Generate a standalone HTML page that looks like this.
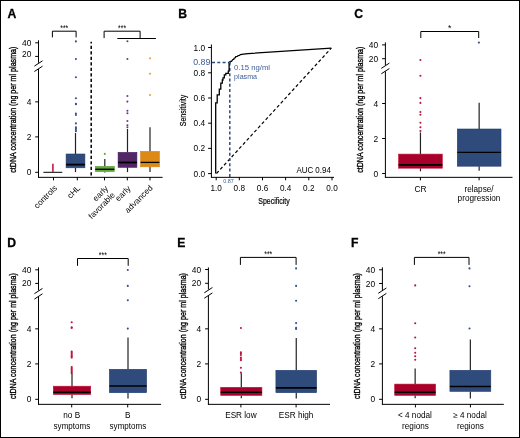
<!DOCTYPE html>
<html><head><meta charset="utf-8"><style>
html,body{margin:0;padding:0;background:#fff;}
#fig{position:absolute;left:0;top:0;width:520px;height:438px;box-sizing:border-box;border:1px solid #000;background:#fff;overflow:hidden;}
svg{position:absolute;left:-1px;top:-1px;will-change:transform;}
text{font-family:"Liberation Sans",sans-serif;}
</style></head><body><div id="fig">
<svg width="520" height="438" viewBox="0 0 520 438">
<text x="7.4" y="17.9" text-anchor="start" font-size="12.2" fill="#000" font-weight="bold" stroke="#000" stroke-width="0.3">A</text>
<line x1="38.5" y1="40.3" x2="38.5" y2="62.8" stroke="#000" stroke-width="1" />
<line x1="38.5" y1="69.0" x2="38.5" y2="177.6" stroke="#000" stroke-width="1" />
<line x1="34.4" y1="66.1" x2="42.5" y2="60.8" stroke="#000" stroke-width="1" />
<line x1="34.4" y1="71.5" x2="42.5" y2="66.2" stroke="#000" stroke-width="1" />
<line x1="35.2" y1="42.8" x2="38.5" y2="42.8" stroke="#000" stroke-width="1" />
<text x="31.3" y="45.8" text-anchor="end" font-size="8.4" fill="#000" font-weight="normal" >40</text>
<line x1="35.2" y1="56.4" x2="38.5" y2="56.4" stroke="#000" stroke-width="1" />
<text x="31.3" y="56.8" text-anchor="end" font-size="8.4" fill="#000" font-weight="normal" >20</text>
<line x1="35.2" y1="101.85" x2="38.5" y2="101.85" stroke="#000" stroke-width="1" />
<text x="31.3" y="104.85" text-anchor="end" font-size="8.4" fill="#000" font-weight="normal" >4</text>
<line x1="35.2" y1="136.9" x2="38.5" y2="136.9" stroke="#000" stroke-width="1" />
<text x="31.3" y="139.6" text-anchor="end" font-size="8.4" fill="#000" font-weight="normal" >2</text>
<line x1="35.2" y1="172.3" x2="38.5" y2="172.3" stroke="#000" stroke-width="1" />
<text x="31.3" y="175.0" text-anchor="end" font-size="8.4" fill="#000" font-weight="normal" >0</text>
<text x="16.1" y="109.65" text-anchor="middle" font-size="9.3" transform="rotate(-90 16.1 109.65)" stroke="#000" stroke-width="0.35" textLength="126.1" lengthAdjust="spacingAndGlyphs">ctDNA concentration (ng per ml plasma)</text>
<line x1="38" y1="177.35" x2="162.6" y2="177.35" stroke="#000" stroke-width="1" />
<line x1="53.5" y1="177.1" x2="53.5" y2="180.4" stroke="#000" stroke-width="1" />
<line x1="77.3" y1="177.1" x2="77.3" y2="180.4" stroke="#000" stroke-width="1" />
<line x1="104.5" y1="177.1" x2="104.5" y2="180.4" stroke="#000" stroke-width="1" />
<line x1="127.3" y1="177.1" x2="127.3" y2="180.4" stroke="#000" stroke-width="1" />
<line x1="150" y1="177.1" x2="150" y2="180.4" stroke="#000" stroke-width="1" />
<line x1="91.2" y1="41.8" x2="91.2" y2="177" stroke="#000" stroke-width="1.5" stroke-dasharray="3.2 2.3" stroke-dashoffset="1.5"/>
<line x1="43.4" y1="172.3" x2="62.3" y2="172.3" stroke="#000" stroke-width="1" />
<line x1="52.9" y1="163.8" x2="52.9" y2="172" stroke="#c8284f" stroke-width="1.7" />
<line x1="75.5" y1="133" x2="75.5" y2="154" stroke="#222" stroke-width="1.2" />
<line x1="75.5" y1="167.8" x2="75.5" y2="172.1" stroke="#222" stroke-width="1.2" />
<rect x="66.1" y="154" width="18.80000000000001" height="13.800000000000011" fill="#2e4b7c" stroke="#243f70" stroke-width="0.6"/>
<line x1="66.1" y1="164.6" x2="84.9" y2="164.6" stroke="#000" stroke-width="1.8" />
<circle cx="75.9" cy="41.4" r="1.05" fill="#30508e"/>
<circle cx="75.9" cy="59" r="1.05" fill="#30508e"/>
<circle cx="75.9" cy="77.2" r="1.05" fill="#30508e"/>
<circle cx="75.9" cy="98.3" r="1.05" fill="#30508e"/>
<circle cx="75.9" cy="103.8" r="1.05" fill="#30508e"/>
<circle cx="75.9" cy="104.3" r="1.05" fill="#30508e"/>
<circle cx="75.9" cy="113.5" r="1.05" fill="#30508e"/>
<circle cx="75.9" cy="115" r="1.05" fill="#30508e"/>
<circle cx="75.9" cy="123.4" r="1.05" fill="#30508e"/>
<circle cx="75.9" cy="127.2" r="1.05" fill="#30508e"/>
<circle cx="75.9" cy="128.6" r="1.05" fill="#30508e"/>
<circle cx="75.9" cy="130" r="1.05" fill="#30508e"/>
<circle cx="75.9" cy="131.2" r="1.05" fill="#30508e"/>
<line x1="104.8" y1="158.9" x2="104.8" y2="166.4" stroke="#222" stroke-width="1.2" />
<line x1="104.8" y1="171.6" x2="104.8" y2="172.6" stroke="#222" stroke-width="1.2" />
<rect x="95.3" y="166.4" width="19.0" height="5.199999999999989" fill="#63aa3a" stroke="#5a9e34" stroke-width="0.6"/>
<line x1="95.3" y1="169.3" x2="114.3" y2="169.3" stroke="#000" stroke-width="1.4" />
<circle cx="104.8" cy="153.9" r="1.05" fill="#63aa3a"/>
<line x1="127.5" y1="129" x2="127.5" y2="152.4" stroke="#222" stroke-width="1.2" />
<line x1="127.5" y1="167.3" x2="127.5" y2="172.1" stroke="#222" stroke-width="1.2" />
<rect x="118.1" y="152.4" width="18.80000000000001" height="14.900000000000006" fill="#532766" stroke="#46195a" stroke-width="0.6"/>
<line x1="118.1" y1="162.5" x2="136.9" y2="162.5" stroke="#000" stroke-width="1.8" />
<circle cx="127.4" cy="41.2" r="1.05" fill="#6a3a8a"/>
<circle cx="127.4" cy="59" r="1.05" fill="#6a3a8a"/>
<circle cx="127.4" cy="96" r="1.05" fill="#6a3a8a"/>
<circle cx="127.4" cy="101.6" r="1.05" fill="#6a3a8a"/>
<circle cx="127.4" cy="110.7" r="1.05" fill="#6a3a8a"/>
<circle cx="127.4" cy="113.2" r="1.05" fill="#6a3a8a"/>
<circle cx="127.4" cy="121" r="1.05" fill="#6a3a8a"/>
<circle cx="127.4" cy="125.2" r="1.05" fill="#6a3a8a"/>
<circle cx="127.4" cy="127.2" r="1.05" fill="#6a3a8a"/>
<line x1="150.0" y1="127.2" x2="150.0" y2="151.4" stroke="#222" stroke-width="1.2" />
<line x1="150.0" y1="166.8" x2="150.0" y2="172.1" stroke="#222" stroke-width="1.2" />
<rect x="140.6" y="151.4" width="18.80000000000001" height="15.400000000000006" fill="#dc8916" stroke="#d58210" stroke-width="0.6"/>
<line x1="140.6" y1="162.4" x2="159.4" y2="162.4" stroke="#000" stroke-width="1.3" />
<circle cx="150" cy="58.2" r="1.05" fill="#f0a030"/>
<circle cx="150" cy="73.8" r="1.05" fill="#f0a030"/>
<circle cx="150" cy="95" r="1.05" fill="#f0a030"/>
<path d="M52.4,37.4 V31.2 H76.1 V37.4" fill="none" stroke="#000" stroke-width="1" />
<text x="64.25" y="31.4" text-anchor="middle" font-size="8.6" fill="#000" font-weight="normal"  textLength="8" lengthAdjust="spacingAndGlyphs">***</text>
<path d="M104.1,38.1 V31.2 H140.1 V38.5" fill="none" stroke="#000" stroke-width="1" />
<text x="122.1" y="31.4" text-anchor="middle" font-size="8.6" fill="#000" font-weight="normal"  textLength="8" lengthAdjust="spacingAndGlyphs">***</text>
<line x1="117.3" y1="38.5" x2="155.9" y2="38.5" stroke="#000" stroke-width="1" />
<text x="57.6" y="188.7" text-anchor="end" font-size="8.2" transform="rotate(-45 57.6 188.7)">controls</text>
<text x="80.8" y="188.7" text-anchor="end" font-size="8.2" transform="rotate(-45 80.8 188.7)">cHL</text>
<text x="108.6" y="189.1" text-anchor="end" font-size="8.2" transform="rotate(-45 108.6 189.1)">early</text>
<text x="115.6" y="195.6" text-anchor="end" font-size="8.2" transform="rotate(-45 115.6 195.6)">favorable</text>
<text x="131.1" y="189.1" text-anchor="end" font-size="8.2" transform="rotate(-45 131.1 189.1)">early</text>
<text x="153.2" y="188.4" text-anchor="end" font-size="8.2" transform="rotate(-45 153.2 188.4)">advanced</text>
<text x="178.2" y="17.9" text-anchor="start" font-size="12.2" fill="#000" font-weight="bold" stroke="#000" stroke-width="0.3">B</text>
<line x1="211.4" y1="44.5" x2="211.4" y2="177.5" stroke="#000" stroke-width="1" />
<line x1="211" y1="177.35" x2="334" y2="177.35" stroke="#000" stroke-width="1" />
<line x1="208.1" y1="47.5" x2="211.4" y2="47.5" stroke="#000" stroke-width="1" />
<text x="205.1" y="50.5" text-anchor="end" font-size="8.3" fill="#000" font-weight="normal" >1.0</text>
<line x1="208.1" y1="72.8" x2="211.4" y2="72.8" stroke="#000" stroke-width="1" />
<text x="205.1" y="75.8" text-anchor="end" font-size="8.3" fill="#000" font-weight="normal" >0.8</text>
<line x1="208.1" y1="98.0" x2="211.4" y2="98.0" stroke="#000" stroke-width="1" />
<text x="205.1" y="101.0" text-anchor="end" font-size="8.3" fill="#000" font-weight="normal" >0.6</text>
<line x1="208.1" y1="123.2" x2="211.4" y2="123.2" stroke="#000" stroke-width="1" />
<text x="205.1" y="126.2" text-anchor="end" font-size="8.3" fill="#000" font-weight="normal" >0.4</text>
<line x1="208.1" y1="148.4" x2="211.4" y2="148.4" stroke="#000" stroke-width="1" />
<text x="205.1" y="151.4" text-anchor="end" font-size="8.3" fill="#000" font-weight="normal" >0.2</text>
<line x1="208.1" y1="173.6" x2="211.4" y2="173.6" stroke="#000" stroke-width="1" />
<text x="205.1" y="176.6" text-anchor="end" font-size="8.3" fill="#000" font-weight="normal" >0.0</text>
<text x="210.4" y="65" text-anchor="end" font-size="8.6" fill="#3c5d96" font-weight="normal"  textLength="17.2" lengthAdjust="spacingAndGlyphs">0.89</text>
<line x1="216.2" y1="177" x2="216.2" y2="180.3" stroke="#000" stroke-width="1" />
<text x="216.2" y="190.5" text-anchor="middle" font-size="8.2" fill="#000" font-weight="normal" >1.0</text>
<line x1="239.3" y1="177" x2="239.3" y2="180.3" stroke="#000" stroke-width="1" />
<text x="239.3" y="190.5" text-anchor="middle" font-size="8.2" fill="#000" font-weight="normal" >0.8</text>
<line x1="262.5" y1="177" x2="262.5" y2="180.3" stroke="#000" stroke-width="1" />
<text x="262.5" y="190.5" text-anchor="middle" font-size="8.2" fill="#000" font-weight="normal" >0.6</text>
<line x1="285.6" y1="177" x2="285.6" y2="180.3" stroke="#000" stroke-width="1" />
<text x="285.6" y="190.5" text-anchor="middle" font-size="8.2" fill="#000" font-weight="normal" >0.4</text>
<line x1="308.8" y1="177" x2="308.8" y2="180.3" stroke="#000" stroke-width="1" />
<text x="308.8" y="190.5" text-anchor="middle" font-size="8.2" fill="#000" font-weight="normal" >0.2</text>
<line x1="332" y1="177" x2="332" y2="180.3" stroke="#000" stroke-width="1" />
<text x="332" y="190.5" text-anchor="middle" font-size="8.2" fill="#000" font-weight="normal" >0.0</text>
<text x="274" y="204.3" text-anchor="middle" font-size="8.8" fill="#000" font-weight="normal" stroke="#000" stroke-width="0.2" textLength="31.5" lengthAdjust="spacingAndGlyphs">Specificity</text>
<text x="186.4" y="110.5" text-anchor="middle" font-size="8.8" transform="rotate(-90 186.4 110.5)" stroke="#000" stroke-width="0.2" textLength="31.5" lengthAdjust="spacingAndGlyphs">Sensitivity</text>
<line x1="216.5" y1="173.5" x2="331.3" y2="48.1" stroke="#000" stroke-width="1.2" stroke-dasharray="3.2 2.4"/>
<line x1="212" y1="62.6" x2="229.8" y2="62.6" stroke="#2e4b7c" stroke-width="1.5" stroke-dasharray="3 2.3"/>
<line x1="229.8" y1="62.6" x2="229.8" y2="177" stroke="#2e4b7c" stroke-width="1.5" stroke-dasharray="3 2.3"/>
<path d="M215.7,173.6 L215.7,102.8 L217.2,102.8 L217.2,94.8 L219.3,94.8 L219.3,89.2 L220.8,89.2 L220.8,83.2 L222.3,83.2 L222.3,80 L223,80 L223,77.9 L224.3,77.9 L224.3,74.9 L225.8,74.9 L225.8,73.4 L228.3,73.4 L228.3,71.1 L229.1,71.1 L229.1,62.8 L230.4,61.3 L231.5,61.3 L232.7,59.7 L233.8,59.2 L234.2,58.2 L235.2,57.8 L235.8,56.5 L237.3,56.4 L238.2,55.6 L239.4,55.4 L240.4,54.6 L243.5,54.1 L248,53.6 L331.3,48.1" fill="none" stroke="#000" stroke-width="1.3" />
<circle cx="229.8" cy="62.6" r="1.2" fill="#2e4b7c"/>
<text x="234.1" y="69.5" text-anchor="start" font-size="7.7" fill="#3c5d96" font-weight="normal"  textLength="36" lengthAdjust="spacingAndGlyphs">0.15 ng/ml</text>
<text x="234.1" y="78.6" text-anchor="start" font-size="7.7" fill="#3c5d96" font-weight="normal"  textLength="23" lengthAdjust="spacingAndGlyphs">plasma</text>
<text x="228.5" y="182.7" text-anchor="middle" font-size="5.5" fill="#3c5d96" font-weight="normal"  textLength="10.6" lengthAdjust="spacingAndGlyphs">0.87</text>
<text x="330.8" y="172.7" text-anchor="end" font-size="8.2" fill="#000" font-weight="normal"  textLength="34.4" lengthAdjust="spacingAndGlyphs">AUC 0.94</text>
<text x="354.3" y="17.9" text-anchor="start" font-size="12.2" fill="#000" font-weight="bold" stroke="#000" stroke-width="0.3">C</text>
<line x1="385.4" y1="42.4" x2="385.4" y2="65.10000000000001" stroke="#000" stroke-width="1" />
<line x1="385.4" y1="71.3" x2="385.4" y2="177.5" stroke="#000" stroke-width="1" />
<line x1="381.29999999999995" y1="68.4" x2="389.4" y2="63.1" stroke="#000" stroke-width="1" />
<line x1="381.29999999999995" y1="73.8" x2="389.4" y2="68.5" stroke="#000" stroke-width="1" />
<line x1="382.09999999999997" y1="44.9" x2="385.4" y2="44.9" stroke="#000" stroke-width="1" />
<text x="378.2" y="47.9" text-anchor="end" font-size="8.4" fill="#000" font-weight="normal" >40</text>
<line x1="382.09999999999997" y1="58.7" x2="385.4" y2="58.7" stroke="#000" stroke-width="1" />
<text x="378.2" y="61.7" text-anchor="end" font-size="8.4" fill="#000" font-weight="normal" >20</text>
<line x1="382.09999999999997" y1="103.5" x2="385.4" y2="103.5" stroke="#000" stroke-width="1" />
<text x="378.2" y="106.5" text-anchor="end" font-size="8.4" fill="#000" font-weight="normal" >4</text>
<line x1="382.09999999999997" y1="138.5" x2="385.4" y2="138.5" stroke="#000" stroke-width="1" />
<text x="378.2" y="141.5" text-anchor="end" font-size="8.4" fill="#000" font-weight="normal" >2</text>
<line x1="382.09999999999997" y1="173.5" x2="385.4" y2="173.5" stroke="#000" stroke-width="1" />
<text x="378.2" y="176.5" text-anchor="end" font-size="8.4" fill="#000" font-weight="normal" >0</text>
<text x="362.9" y="109.7" text-anchor="middle" font-size="9.3" transform="rotate(-90 362.9 109.7)" stroke="#000" stroke-width="0.35" textLength="126.2" lengthAdjust="spacingAndGlyphs">ctDNA concentration (ng per ml plasma)</text>
<line x1="384.9" y1="177.35" x2="512.5" y2="177.35" stroke="#000" stroke-width="1" />
<line x1="420.4" y1="177" x2="420.4" y2="180.3" stroke="#000" stroke-width="1" />
<line x1="479.1" y1="177" x2="479.1" y2="180.3" stroke="#000" stroke-width="1" />
<line x1="420.45000000000005" y1="132.5" x2="420.45000000000005" y2="154.1" stroke="#222" stroke-width="1.2" />
<line x1="420.45000000000005" y1="168.2" x2="420.45000000000005" y2="171.3" stroke="#222" stroke-width="1.2" />
<rect x="398.6" y="154.1" width="43.69999999999999" height="14.099999999999994" fill="#a6002b" stroke="#c41234" stroke-width="0.6"/>
<line x1="398.6" y1="164.9" x2="442.3" y2="164.9" stroke="#000" stroke-width="1.8" />
<circle cx="420.4" cy="60" r="1.05" fill="#b8173f"/>
<circle cx="420.4" cy="75.8" r="1.05" fill="#b8173f"/>
<circle cx="420.4" cy="98.1" r="1.05" fill="#b8173f"/>
<circle cx="420.4" cy="102.9" r="1.05" fill="#b8173f"/>
<circle cx="420.4" cy="112" r="1.05" fill="#b8173f"/>
<circle cx="420.4" cy="114.8" r="1.05" fill="#b8173f"/>
<circle cx="420.4" cy="122.8" r="1.05" fill="#b8173f"/>
<circle cx="420.4" cy="127.2" r="1.05" fill="#b8173f"/>
<circle cx="420.4" cy="131" r="1.05" fill="#b8173f"/>
<line x1="479.15" y1="102.7" x2="479.15" y2="129" stroke="#222" stroke-width="1.2" />
<line x1="479.15" y1="166.2" x2="479.15" y2="170.8" stroke="#222" stroke-width="1.2" />
<rect x="457.3" y="129" width="43.69999999999999" height="37.19999999999999" fill="#2e4b7c" stroke="#243f70" stroke-width="0.6"/>
<line x1="457.3" y1="152.4" x2="501" y2="152.4" stroke="#000" stroke-width="1.3" />
<circle cx="478.9" cy="42.6" r="1.05" fill="#30508e"/>
<path d="M420.8,38 V31.5 H478.7 V38" fill="none" stroke="#000" stroke-width="1" />
<text x="449.75" y="31.2" text-anchor="middle" font-size="8.6" fill="#000" font-weight="normal" >*</text>
<text x="420.6" y="191.6" text-anchor="middle" font-size="8.4" fill="#000" font-weight="normal" >CR</text>
<text x="479" y="191.6" text-anchor="middle" font-size="8.2" fill="#000" font-weight="normal" >relapse/</text>
<text x="479" y="201.2" text-anchor="middle" font-size="8.2" fill="#000" font-weight="normal" >progression</text>
<text x="7.3" y="247.4" text-anchor="start" font-size="12.2" fill="#000" font-weight="bold" stroke="#000" stroke-width="0.3">D</text>
<line x1="38.5" y1="267.4" x2="38.5" y2="290.4" stroke="#000" stroke-width="1" />
<line x1="38.5" y1="296.6" x2="38.5" y2="404.6" stroke="#000" stroke-width="1" />
<line x1="34.4" y1="293.7" x2="42.5" y2="288.4" stroke="#000" stroke-width="1" />
<line x1="34.4" y1="299.1" x2="42.5" y2="293.8" stroke="#000" stroke-width="1" />
<line x1="35.2" y1="269.8" x2="38.5" y2="269.8" stroke="#000" stroke-width="1" />
<text x="31.3" y="272.8" text-anchor="end" font-size="8.4" fill="#000" font-weight="normal" >40</text>
<line x1="35.2" y1="283.4" x2="38.5" y2="283.4" stroke="#000" stroke-width="1" />
<text x="31.3" y="286.4" text-anchor="end" font-size="8.4" fill="#000" font-weight="normal" >20</text>
<line x1="35.2" y1="328.85" x2="38.5" y2="328.85" stroke="#000" stroke-width="1" />
<text x="31.3" y="331.85" text-anchor="end" font-size="8.4" fill="#000" font-weight="normal" >4</text>
<line x1="35.2" y1="363.9" x2="38.5" y2="363.9" stroke="#000" stroke-width="1" />
<text x="31.3" y="366.9" text-anchor="end" font-size="8.4" fill="#000" font-weight="normal" >2</text>
<line x1="35.2" y1="399.3" x2="38.5" y2="399.3" stroke="#000" stroke-width="1" />
<text x="31.3" y="402.3" text-anchor="end" font-size="8.4" fill="#000" font-weight="normal" >0</text>
<text x="16.1" y="336.1" text-anchor="middle" font-size="9.3" transform="rotate(-90 16.1 336.1)" stroke="#000" stroke-width="0.35" textLength="126" lengthAdjust="spacingAndGlyphs">ctDNA concentration (ng per ml plasma)</text>
<line x1="38" y1="404.35" x2="161.1" y2="404.35" stroke="#000" stroke-width="1" />
<line x1="71.7" y1="404.1" x2="71.7" y2="407.4" stroke="#000" stroke-width="1" />
<line x1="127.7" y1="404.1" x2="127.7" y2="407.4" stroke="#000" stroke-width="1" />
<line x1="72.0" y1="373.8" x2="72.0" y2="386.2" stroke="#222" stroke-width="1.2" />
<line x1="72.0" y1="394.5" x2="72.0" y2="398.2" stroke="#222" stroke-width="1.2" />
<rect x="53.3" y="386.2" width="37.400000000000006" height="8.300000000000011" fill="#a6002b" stroke="#c41234" stroke-width="0.6"/>
<line x1="53.3" y1="392.2" x2="90.7" y2="392.2" stroke="#000" stroke-width="1.6" />
<circle cx="71.7" cy="322.2" r="1.05" fill="#b8173f"/>
<circle cx="71.7" cy="327.3" r="1.05" fill="#b8173f"/>
<circle cx="71.7" cy="328.0" r="1.05" fill="#b8173f"/>
<circle cx="71.7" cy="351.5" r="1.05" fill="#b8173f"/>
<circle cx="71.7" cy="352.8" r="1.05" fill="#b8173f"/>
<circle cx="71.7" cy="354" r="1.05" fill="#b8173f"/>
<circle cx="71.7" cy="355.3" r="1.05" fill="#b8173f"/>
<circle cx="71.7" cy="356.6" r="1.05" fill="#b8173f"/>
<circle cx="71.7" cy="357.6" r="1.05" fill="#b8173f"/>
<circle cx="71.7" cy="367" r="1.05" fill="#b8173f"/>
<circle cx="71.7" cy="368.3" r="1.05" fill="#b8173f"/>
<circle cx="71.7" cy="369.6" r="1.05" fill="#b8173f"/>
<circle cx="71.7" cy="370.9" r="1.05" fill="#b8173f"/>
<circle cx="71.7" cy="372.2" r="1.05" fill="#b8173f"/>
<circle cx="71.7" cy="373.2" r="1.05" fill="#b8173f"/>
<line x1="128.0" y1="337.5" x2="128.0" y2="369.3" stroke="#222" stroke-width="1.2" />
<line x1="128.0" y1="392.7" x2="128.0" y2="398.6" stroke="#222" stroke-width="1.2" />
<rect x="109.4" y="369.3" width="37.19999999999999" height="23.399999999999977" fill="#2e4b7c" stroke="#243f70" stroke-width="0.6"/>
<line x1="109.4" y1="386" x2="146.6" y2="386" stroke="#000" stroke-width="1.3" />
<circle cx="127.8" cy="270" r="1.05" fill="#30508e"/>
<circle cx="127.8" cy="285.9" r="1.05" fill="#30508e"/>
<circle cx="127.8" cy="300.2" r="1.05" fill="#30508e"/>
<circle cx="127.8" cy="328.6" r="1.05" fill="#30508e"/>
<path d="M77.5,265.8 V258.5 H128.2 V265.8" fill="none" stroke="#000" stroke-width="1" />
<text x="102.85" y="257.9" text-anchor="middle" font-size="8.6" fill="#000" font-weight="normal"  textLength="8" lengthAdjust="spacingAndGlyphs">***</text>
<text x="71.7" y="418.3" text-anchor="middle" font-size="8.2" fill="#000" font-weight="normal" >no B</text>
<text x="71.9" y="429.1" text-anchor="middle" font-size="8.2" fill="#000" font-weight="normal"  textLength="36.6" lengthAdjust="spacingAndGlyphs">symptoms</text>
<text x="127.7" y="418.3" text-anchor="middle" font-size="8.2" fill="#000" font-weight="normal" >B</text>
<text x="127.9" y="429.1" text-anchor="middle" font-size="8.2" fill="#000" font-weight="normal"  textLength="36.6" lengthAdjust="spacingAndGlyphs">symptoms</text>
<text x="177.3" y="247.4" text-anchor="start" font-size="12.2" fill="#000" font-weight="bold" stroke="#000" stroke-width="0.3">E</text>
<line x1="208.4" y1="267.4" x2="208.4" y2="289.5" stroke="#000" stroke-width="1" />
<line x1="208.4" y1="295.70000000000005" x2="208.4" y2="404.6" stroke="#000" stroke-width="1" />
<line x1="204.3" y1="292.8" x2="212.4" y2="287.5" stroke="#000" stroke-width="1" />
<line x1="204.3" y1="298.20000000000005" x2="212.4" y2="292.90000000000003" stroke="#000" stroke-width="1" />
<line x1="205.1" y1="269.5" x2="208.4" y2="269.5" stroke="#000" stroke-width="1" />
<text x="201.20000000000002" y="272.5" text-anchor="end" font-size="8.4" fill="#000" font-weight="normal" >40</text>
<line x1="205.1" y1="283.3" x2="208.4" y2="283.3" stroke="#000" stroke-width="1" />
<text x="201.20000000000002" y="286.3" text-anchor="end" font-size="8.4" fill="#000" font-weight="normal" >20</text>
<line x1="205.1" y1="328.85" x2="208.4" y2="328.85" stroke="#000" stroke-width="1" />
<text x="201.20000000000002" y="331.85" text-anchor="end" font-size="8.4" fill="#000" font-weight="normal" >4</text>
<line x1="205.1" y1="363.9" x2="208.4" y2="363.9" stroke="#000" stroke-width="1" />
<text x="201.20000000000002" y="366.9" text-anchor="end" font-size="8.4" fill="#000" font-weight="normal" >2</text>
<line x1="205.1" y1="399.3" x2="208.4" y2="399.3" stroke="#000" stroke-width="1" />
<text x="201.20000000000002" y="402.3" text-anchor="end" font-size="8.4" fill="#000" font-weight="normal" >0</text>
<text x="185.9" y="336" text-anchor="middle" font-size="9.3" transform="rotate(-90 185.9 336)" stroke="#000" stroke-width="0.35" textLength="126" lengthAdjust="spacingAndGlyphs">ctDNA concentration (ng per ml plasma)</text>
<line x1="207.9" y1="404.35" x2="330" y2="404.35" stroke="#000" stroke-width="1" />
<line x1="240.9" y1="404.1" x2="240.9" y2="407.4" stroke="#000" stroke-width="1" />
<line x1="296.1" y1="404.1" x2="296.1" y2="407.4" stroke="#000" stroke-width="1" />
<line x1="241.29999999999998" y1="373.3" x2="241.29999999999998" y2="387.3" stroke="#222" stroke-width="1.2" />
<line x1="241.29999999999998" y1="395.4" x2="241.29999999999998" y2="398.2" stroke="#222" stroke-width="1.2" />
<rect x="220.7" y="387.3" width="41.19999999999999" height="8.099999999999966" fill="#a6002b" stroke="#c41234" stroke-width="0.6"/>
<line x1="220.7" y1="392.2" x2="261.9" y2="392.2" stroke="#000" stroke-width="1.6" />
<circle cx="240.9" cy="328" r="1.05" fill="#b8173f"/>
<circle cx="240.9" cy="352.2" r="1.05" fill="#b8173f"/>
<circle cx="240.9" cy="353.6" r="1.05" fill="#b8173f"/>
<circle cx="240.9" cy="355" r="1.05" fill="#b8173f"/>
<circle cx="240.9" cy="357.6" r="1.05" fill="#b8173f"/>
<circle cx="240.9" cy="359" r="1.05" fill="#b8173f"/>
<circle cx="240.9" cy="360.3" r="1.05" fill="#b8173f"/>
<circle cx="240.9" cy="367.8" r="1.05" fill="#b8173f"/>
<circle cx="240.9" cy="372.6" r="1.05" fill="#b8173f"/>
<line x1="296.25" y1="338" x2="296.25" y2="370.3" stroke="#222" stroke-width="1.2" />
<line x1="296.25" y1="392.7" x2="296.25" y2="398.6" stroke="#222" stroke-width="1.2" />
<rect x="275.9" y="370.3" width="40.700000000000045" height="22.399999999999977" fill="#2e4b7c" stroke="#243f70" stroke-width="0.6"/>
<line x1="275.9" y1="387.9" x2="316.6" y2="387.9" stroke="#000" stroke-width="1.6" />
<circle cx="296.1" cy="268.4" r="1.05" fill="#30508e"/>
<circle cx="296.1" cy="285.9" r="1.05" fill="#30508e"/>
<circle cx="296.1" cy="300.7" r="1.05" fill="#30508e"/>
<circle cx="296.1" cy="323.1" r="1.05" fill="#30508e"/>
<circle cx="296.1" cy="327.9" r="1.05" fill="#30508e"/>
<circle cx="296.1" cy="329" r="1.05" fill="#30508e"/>
<path d="M240.4,264.9 V257.4 H296.1 V264.9" fill="none" stroke="#000" stroke-width="1" />
<text x="268.25" y="257.3" text-anchor="middle" font-size="8.6" fill="#000" font-weight="normal"  textLength="8" lengthAdjust="spacingAndGlyphs">***</text>
<text x="240.9" y="417.8" text-anchor="middle" font-size="8.2" fill="#000" font-weight="normal" >ESR low</text>
<text x="296.1" y="417.8" text-anchor="middle" font-size="8.2" fill="#000" font-weight="normal" >ESR high</text>
<text x="351" y="247.4" text-anchor="start" font-size="12.2" fill="#000" font-weight="bold" stroke="#000" stroke-width="0.3">F</text>
<line x1="382.4" y1="267.4" x2="382.4" y2="290.0" stroke="#000" stroke-width="1" />
<line x1="382.4" y1="296.20000000000005" x2="382.4" y2="404.6" stroke="#000" stroke-width="1" />
<line x1="378.29999999999995" y1="293.3" x2="386.4" y2="288.0" stroke="#000" stroke-width="1" />
<line x1="378.29999999999995" y1="298.70000000000005" x2="386.4" y2="293.40000000000003" stroke="#000" stroke-width="1" />
<line x1="379.09999999999997" y1="269.8" x2="382.4" y2="269.8" stroke="#000" stroke-width="1" />
<text x="375.2" y="272.8" text-anchor="end" font-size="8.4" fill="#000" font-weight="normal" >40</text>
<line x1="379.09999999999997" y1="283.5" x2="382.4" y2="283.5" stroke="#000" stroke-width="1" />
<text x="375.2" y="286.5" text-anchor="end" font-size="8.4" fill="#000" font-weight="normal" >20</text>
<line x1="379.09999999999997" y1="328.85" x2="382.4" y2="328.85" stroke="#000" stroke-width="1" />
<text x="375.2" y="331.85" text-anchor="end" font-size="8.4" fill="#000" font-weight="normal" >4</text>
<line x1="379.09999999999997" y1="363.9" x2="382.4" y2="363.9" stroke="#000" stroke-width="1" />
<text x="375.2" y="366.9" text-anchor="end" font-size="8.4" fill="#000" font-weight="normal" >2</text>
<line x1="379.09999999999997" y1="399.3" x2="382.4" y2="399.3" stroke="#000" stroke-width="1" />
<text x="375.2" y="402.3" text-anchor="end" font-size="8.4" fill="#000" font-weight="normal" >0</text>
<text x="360.1" y="336" text-anchor="middle" font-size="9.3" transform="rotate(-90 360.1 336)" stroke="#000" stroke-width="0.35" textLength="126" lengthAdjust="spacingAndGlyphs">ctDNA concentration (ng per ml plasma)</text>
<line x1="381.9" y1="404.35" x2="503.8" y2="404.35" stroke="#000" stroke-width="1" />
<line x1="415.4" y1="404.1" x2="415.4" y2="407.4" stroke="#000" stroke-width="1" />
<line x1="470.4" y1="404.1" x2="470.4" y2="407.4" stroke="#000" stroke-width="1" />
<line x1="415.15" y1="368.5" x2="415.15" y2="384.1" stroke="#222" stroke-width="1.2" />
<line x1="415.15" y1="395.4" x2="415.15" y2="398.2" stroke="#222" stroke-width="1.2" />
<rect x="394.7" y="384.1" width="40.900000000000034" height="11.299999999999955" fill="#a6002b" stroke="#c41234" stroke-width="0.6"/>
<line x1="394.7" y1="392.2" x2="435.6" y2="392.2" stroke="#000" stroke-width="1.6" />
<circle cx="415.2" cy="285.4" r="1.05" fill="#b8173f"/>
<circle cx="415.2" cy="323.2" r="1.05" fill="#b8173f"/>
<circle cx="415.2" cy="337.5" r="1.05" fill="#b8173f"/>
<circle cx="415.2" cy="348.3" r="1.05" fill="#b8173f"/>
<circle cx="415.2" cy="352.8" r="1.05" fill="#b8173f"/>
<circle cx="415.2" cy="356.3" r="1.05" fill="#b8173f"/>
<circle cx="415.2" cy="359.8" r="1.05" fill="#b8173f"/>
<line x1="470.35" y1="339.4" x2="470.35" y2="370.3" stroke="#222" stroke-width="1.2" />
<line x1="470.35" y1="391.4" x2="470.35" y2="398.6" stroke="#222" stroke-width="1.2" />
<rect x="449.9" y="370.3" width="40.900000000000034" height="21.099999999999966" fill="#2e4b7c" stroke="#243f70" stroke-width="0.6"/>
<line x1="449.9" y1="386.5" x2="490.8" y2="386.5" stroke="#000" stroke-width="1.6" />
<circle cx="469.5" cy="268.4" r="1.05" fill="#30508e"/>
<circle cx="469.5" cy="286.2" r="1.05" fill="#30508e"/>
<circle cx="469.5" cy="328.5" r="1.05" fill="#30508e"/>
<path d="M414.4,264.9 V257.4 H469 V264.9" fill="none" stroke="#000" stroke-width="1" />
<text x="441.7" y="257.3" text-anchor="middle" font-size="8.6" fill="#000" font-weight="normal"  textLength="8" lengthAdjust="spacingAndGlyphs">***</text>
<text x="414.9" y="418.2" text-anchor="middle" font-size="8.2" fill="#000" font-weight="normal" >&lt; 4 nodal</text>
<text x="415.5" y="428.9" text-anchor="middle" font-size="8.2" fill="#000" font-weight="normal" >regions</text>
<text x="470" y="418.2" text-anchor="middle" font-size="8.2" fill="#000" font-weight="normal" >&#8805; 4 nodal</text>
<text x="470.4" y="428.9" text-anchor="middle" font-size="8.2" fill="#000" font-weight="normal" >regions</text>
</svg></div></body></html>
